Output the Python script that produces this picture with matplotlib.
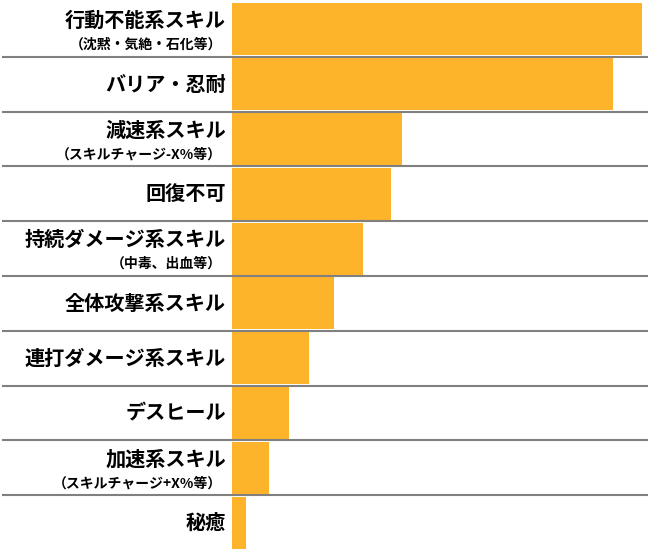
import matplotlib.pyplot as plt
import matplotlib.transforms as mtransforms

plt.rcParams["font.family"] = "Noto Sans CJK JP"

labels = ["行動不能系スキル", "バリア・忍耐", "減速系スキル", "回復不可", "持続ダメージ系スキル",
          "全体攻撃系スキル", "連打ダメージ系スキル", "デスヒール", "加速系スキル", "秘癒"]
sublabels = ["（沈黙・気絶・石化等）", "", "（スキルチャージ-X%等）", "", "（中毒、出血等）",
             "", "", "", "（スキルチャージ+X%等）", ""]
values = [410, 381, 170, 159, 131, 102, 77, 57, 37, 14]

W, H = 648, 554
fig = plt.figure(figsize=(W / 100, H / 100), dpi=100)
x0 = 232
ax = fig.add_axes([x0 / W, 4 / H, (W - x0) / W, 548 / H])

n = len(values)
ys = list(range(n))
ax.barh(ys, values, height=0.95, color="#FDB42B")
ax.set_xlim(0, 416)
ax.set_ylim(n - 0.5, -0.5)
ax.axis("off")

trans = mtransforms.blended_transform_factory(fig.transFigure, ax.transData)
for i, (lab, sub) in enumerate(zip(labels, sublabels)):
    if sub:
        ax.text(226 / W, i - 0.16, lab, transform=trans, ha="right", va="center",
                fontsize=14.5, fontweight="bold")
        ax.text(222 / W, i + 0.28, sub, transform=trans, ha="right", va="center",
                fontsize=10, fontweight="bold")
    else:
        ax.text(226 / W, i, lab, transform=trans, ha="right", va="center",
                fontsize=14.5, fontweight="bold")
    if i < n - 1:
        ax.plot([3 / W, 1], [i + 0.5, i + 0.5], transform=trans, color="#808080",
                lw=1.5, clip_on=False, zorder=3)

fig.savefig("out.png", dpi=100)
